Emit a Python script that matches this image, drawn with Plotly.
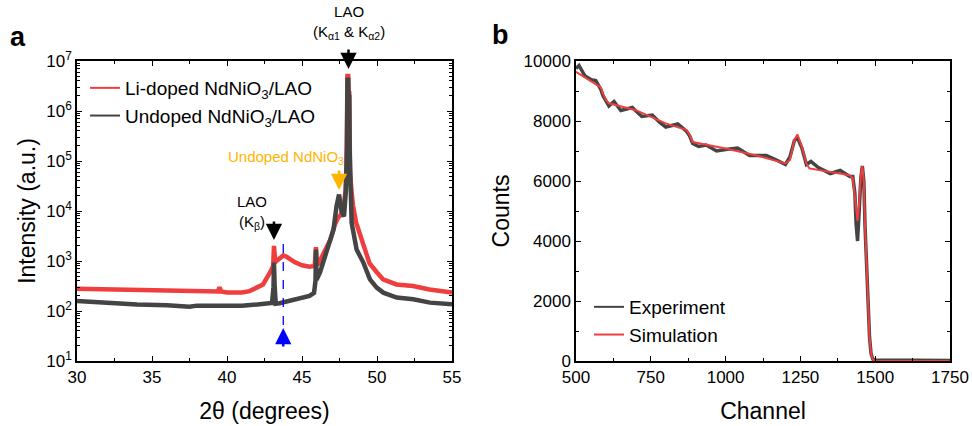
import plotly.graph_objects as go

# ---------------- Panel a: XRD (log intensity) ----------------
tt_li = [30, 32, 34, 36, 38, 39.4, 39.5, 39.6, 40, 41, 41.5, 42, 42.4, 42.87, 43.08, 43.13, 43.2,
         43.3, 43.5, 43.75, 44, 44.5, 45, 45.5, 45.85, 45.93, 46.0, 46.1, 46.4, 46.9, 47.2, 47.4,
         47.6, 47.8, 47.9, 47.97, 48.03, 48.08, 48.1, 48.15, 48.18, 48.2, 48.3, 48.4, 48.6, 48.9,
         49.2, 49.5, 50, 50.4, 51.3, 52.4, 53.5, 55]
int_li = [280, 272, 262, 255, 248, 245, 300, 245, 235, 235, 250, 300, 340, 590, 800, 2000, 1100,
          1000, 1150, 1290, 1200, 950, 820, 770, 800, 1900, 850, 880, 1350, 2700, 5400, 7300,
          8500, 14000, 25000, 80000, 5.0e6, 5.0e6, 2.5e6, 2.4e6, 3.0e5, 60000, 25000, 13000,
          6000, 3300, 1700, 900, 590, 430, 340, 315, 270, 233]

tt_un = [30, 32, 34, 36, 37.5, 38, 40, 41, 42, 43.0, 43.1, 43.13, 43.18, 43.25, 43.5, 44, 44.5,
         45, 45.5, 45.8, 45.9, 45.93, 45.97, 46.2, 46.6, 47.1, 47.3, 47.47, 47.64, 47.8, 47.93,
         48.0, 48.03, 48.08, 48.1, 48.15, 48.18, 48.24, 48.31, 48.64, 49.09, 49.53, 49.98, 50.42,
         51.31, 52.42, 53.53, 55]
int_un = [158, 145, 135, 130, 122, 128, 126, 128, 135, 145, 300, 930, 300, 140, 143, 155, 172,
          185, 200, 230, 400, 1700, 420, 590, 1470, 4270, 12300, 21400, 9800, 7800, 27000,
          2.0e5, 4.2e6, 4.2e6, 2.2e6, 2.0e6, 1.5e5, 12000, 5800, 1700, 930, 430, 293, 233,
          186, 172, 147, 137]

ytick_vals_a = [10, 100, 1000, 1e4, 1e5, 1e6, 1e7]
ytick_text_a = ["10<sup>1</sup>", "10<sup>2</sup>", "10<sup>3</sup>", "10<sup>4</sup>",
                "10<sup>5</sup>", "10<sup>6</sup>", "10<sup>7</sup>"]

# ---------------- Panel b: RBS ----------------
ch_exp = [500, 510, 530, 550, 566, 583, 590, 600, 610, 627, 650, 688, 720, 755, 780, 800, 840, 870,
          880, 890, 910, 935, 970, 1000, 1040, 1080, 1136, 1170, 1200, 1215, 1230, 1240, 1255,
          1270, 1285, 1310, 1350, 1383, 1415, 1425, 1432, 1436, 1441, 1446, 1452, 1457, 1462,
          1466, 1471, 1476, 1481, 1486, 1492, 1500, 1600, 1750]
cnt_exp = [9750, 9850, 9500, 9380, 9350, 9050, 8850, 8650, 8500, 8650, 8350, 8450, 8150, 8200,
           7950, 7800, 7900, 7650, 7500, 7250, 7150, 7200, 7000, 7050, 7100, 6850, 6850, 6700,
           6550, 6800, 7350, 7450, 7100, 6550, 6650, 6450, 6250, 6350, 6150, 6150, 5600, 4600,
           4000, 4900, 6100, 6500, 6000, 4500, 3100, 1800, 800, 250, 60, 30, 30, 20]

ch_sim = [500, 544, 583, 590, 600, 610, 700, 800, 870, 880, 890, 1000, 1100, 1200, 1215, 1230,
          1240, 1255, 1270, 1280, 1350, 1415, 1425, 1430, 1436, 1441, 1446, 1452, 1457, 1462,
          1466, 1471, 1476, 1481, 1486, 1492, 1500, 1750]
cnt_sim = [9640, 9370, 9120, 8920, 8700, 8590, 8360, 7920, 7700, 7530, 7300, 7085, 6860, 6585,
           6700, 7370, 7550, 7140, 6585, 6420, 6300, 6190, 6100, 5600, 5000, 4670, 5200, 6200,
           6500, 6000, 4500, 3100, 1800, 800, 250, 50, 0, 0]

RED = "#F03E3E"
GRAY = "#444444"
FONT = "Liberation Sans, Arial, sans-serif"

fig = go.Figure()
# data traces (thick lines mimic the noise band), legend handled by thin legend-only traces
fig.add_trace(go.Scatter(x=tt_li, y=int_li, mode="lines", name="Li-doped NdNiO<sub>3</sub>/LAO",
                         line=dict(color=RED, width=4.5), xaxis="x", yaxis="y", showlegend=False))
fig.add_trace(go.Scatter(x=tt_un, y=int_un, mode="lines", name="Undoped NdNiO<sub>3</sub>/LAO",
                         line=dict(color=GRAY, width=4.5), xaxis="x", yaxis="y", showlegend=False))
fig.add_trace(go.Scatter(x=[None], y=[None], mode="lines", name="Li-doped NdNiO<sub>3</sub>/LAO",
                         line=dict(color=RED, width=2), xaxis="x", yaxis="y", legend="legend"))
fig.add_trace(go.Scatter(x=[None], y=[None], mode="lines", name="Undoped NdNiO<sub>3</sub>/LAO",
                         line=dict(color=GRAY, width=2), xaxis="x", yaxis="y", legend="legend"))
fig.add_trace(go.Scatter(x=ch_exp, y=cnt_exp, mode="lines", name="Experiment",
                         line=dict(color=GRAY, width=3.5), xaxis="x2", yaxis="y2", showlegend=False))
fig.add_trace(go.Scatter(x=ch_sim, y=cnt_sim, mode="lines", name="Simulation",
                         line=dict(color=RED, width=2), xaxis="x2", yaxis="y2", showlegend=False))
fig.add_trace(go.Scatter(x=[None], y=[None], mode="lines", name="Experiment",
                         line=dict(color=GRAY, width=2), xaxis="x2", yaxis="y2", legend="legend2"))
fig.add_trace(go.Scatter(x=[None], y=[None], mode="lines", name="Simulation",
                         line=dict(color=RED, width=2), xaxis="x2", yaxis="y2", legend="legend2"))

W, H = 972, 426
def px(xp):
    return xp / W
def py(yp):
    return 1 - yp / H

axis_common = dict(showline=True, linecolor="black", linewidth=1.5, mirror="ticks",
                   ticks="inside", ticklen=5, tickwidth=1.2, tickcolor="black",
                   showgrid=False, zeroline=False, automargin=False,
                   tickfont=dict(family=FONT, size=17, color="black"),
                   title_font=dict(family=FONT, size=23, color="black"))

fig.update_layout(
    width=W, height=H, margin=dict(l=0, r=0, t=0, b=0, autoexpand=False),
    paper_bgcolor="white", plot_bgcolor="white",
    font=dict(family=FONT, color="black"),
    xaxis=dict(domain=[px(77), px(452)], range=[30, 55], dtick=5, anchor="y",
               minor=dict(dtick=2.5, ticks="inside", ticklen=3, tickcolor="black"),
               title=dict(text="2θ (degrees)", standoff=17), **axis_common),
    yaxis=dict(domain=[py(361), py(61)], type="log", range=[1, 7], anchor="x",
               tickmode="array", tickvals=ytick_vals_a, ticktext=ytick_text_a,
               minor=dict(dtick="D1", ticks="inside", ticklen=3, tickcolor="black"),
               title=dict(text="Intensity (a.u.)", standoff=4), **axis_common),
    xaxis2=dict(domain=[px(576), px(950)], range=[500, 1750], dtick=250, anchor="y2",
                minor=dict(dtick=125, ticks="inside", ticklen=3, tickcolor="black"),
                title=dict(text="Channel", standoff=17), **axis_common),
    yaxis2=dict(domain=[py(361), py(61)], range=[0, 10000], dtick=2000, anchor="x2",
                tickformat="d",
                minor=dict(dtick=1000, ticks="inside", ticklen=3, tickcolor="black"),
                title=dict(text="Counts", standoff=8), **axis_common),
    legend=dict(x=px(85), y=py(69), xanchor="left", yanchor="top", bgcolor="rgba(0,0,0,0)",
                font=dict(family=FONT, size=19, color="black"), tracegroupgap=0),
    legend2=dict(x=px(589), y=py(288), xanchor="left", yanchor="top", bgcolor="rgba(0,0,0,0)",
                 font=dict(family=FONT, size=19, color="black"), tracegroupgap=0),
    showlegend=True,
)

ann = []
# panel labels
ann.append(dict(text="<b>a</b>", x=px(8), y=py(37), xref="paper", yref="paper", xanchor="left",
                yanchor="middle", showarrow=False, font=dict(family=FONT, size=27, color="black")))
ann.append(dict(text="<b>b</b>", x=px(490), y=py(35), xref="paper", yref="paper", xanchor="left",
                yanchor="middle", showarrow=False, font=dict(family=FONT, size=27, color="black")))
# main LAO peak arrow + label
ann.append(dict(x=48.1, y=6.84, xref="x", yref="y", ax=0, ay=-21, showarrow=True, arrowhead=2,
                arrowsize=1.3, arrowwidth=2.5, arrowcolor="black", text=""))
ann.append(dict(text="LAO<br>(K<sub>α1</sub> & K<sub>α2</sub>)", x=48.1, y=py(44), xref="x", yref="paper",
                xanchor="center", yanchor="bottom", showarrow=False,
                font=dict(family=FONT, size=15, color="black")))
# K-beta arrow + label
ann.append(dict(x=43.13, y=3.42, xref="x", yref="y", ax=0, ay=-20, showarrow=True, arrowhead=2,
                arrowsize=1.3, arrowwidth=2.5, arrowcolor="black", text=""))
ann.append(dict(text="LAO<br>(K<sub>β</sub>)", x=41.65, y=py(212), xref="x", yref="paper",
                xanchor="center", yanchor="middle", showarrow=False,
                font=dict(family=FONT, size=15, color="black")))
# undoped NdNiO3 arrow + label
ann.append(dict(x=47.47, y=4.42, xref="x", yref="y", ax=0, ay=-21, showarrow=True, arrowhead=2,
                arrowsize=1.3, arrowwidth=2.5, arrowcolor="#FFB400", text=""))
ann.append(dict(text="Undoped NdNiO<sub>3</sub>", x=43.9, y=py(157), xref="x", yref="paper",
                xanchor="center", yanchor="middle", showarrow=False,
                font=dict(family=FONT, size=15, color="#FFB400")))
# blue arrow (pointing up)
ann.append(dict(x=43.75, y=1.66, xref="x", yref="y", ax=0, ay=20, showarrow=True, arrowhead=2,
                arrowsize=1.3, arrowwidth=2.5, arrowcolor="#0000FF", text=""))
fig.update_layout(annotations=ann)

fig.add_shape(type="line", x0=43.75, x1=43.75, y0=py(325), y1=py(235), xref="x", yref="paper",
              line=dict(color="#0000FF", width=1.3, dash="dash"))

fig.write_html("out.html", config={"displayModeBar": False},
               post_script="document.body.style.margin='0';document.body.style.padding='0';")
